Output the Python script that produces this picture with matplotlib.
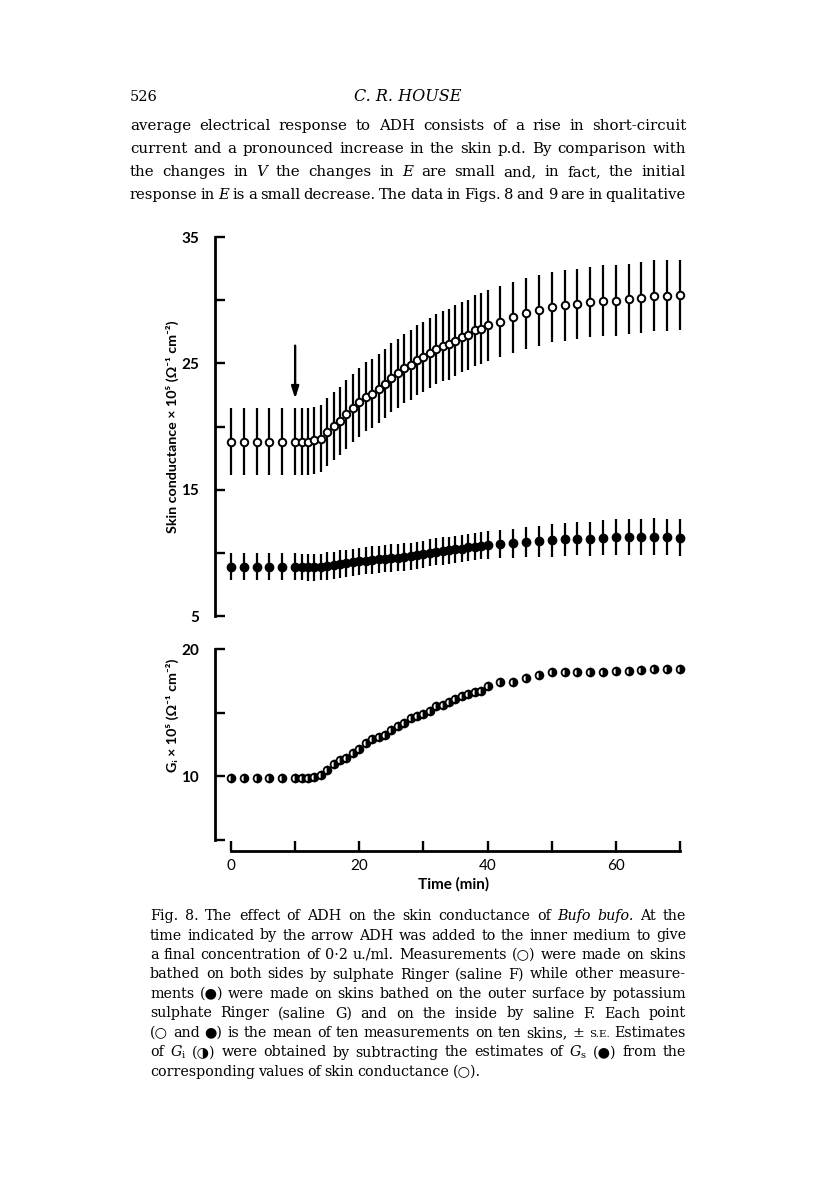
import matplotlib
matplotlib.use('Agg')
import matplotlib.pyplot as plt

# ---- data ----
times = [0, 2, 4, 6, 8,
         10, 11, 12, 13, 14, 15, 16, 17, 18, 19, 20, 21, 22, 23, 24, 25,
         26, 27, 28, 29, 30, 31, 32, 33, 34, 35, 36, 37, 38, 39, 40,
         42, 44, 46, 48, 50, 52, 54, 56, 58, 60, 62, 64, 66, 68, 70]

# skin conductance, both sides saline F (open circles)
open_mean = [18.8, 18.8, 18.8, 18.8, 18.8,
             18.8, 18.8, 18.8, 18.9, 19.05, 19.55, 20.05, 20.45, 20.95, 21.45, 21.9,
             22.35, 22.6, 23.0, 23.4, 23.85, 24.2, 24.6, 24.85, 25.25, 25.5,
             25.85, 26.1, 26.35, 26.5, 26.8, 27.1, 27.25, 27.6, 27.75, 28.0,
             28.3, 28.65, 28.95, 29.2, 29.45, 29.6, 29.7, 29.85, 29.95, 29.95,
             30.1, 30.2, 30.35, 30.35, 30.4]
open_se = [2.65, 2.65, 2.65, 2.65, 2.65,
           2.65, 2.65, 2.65, 2.65, 2.65, 2.68, 2.7, 2.7, 2.7, 2.7, 2.72,
           2.72, 2.72, 2.72, 2.74, 2.74, 2.74, 2.75, 2.75, 2.76, 2.76,
           2.77, 2.77, 2.78, 2.78, 2.78, 2.79, 2.79, 2.8, 2.8, 2.8,
           2.8, 2.8, 2.8, 2.8, 2.8, 2.8, 2.8, 2.8, 2.8, 2.8,
           2.8, 2.8, 2.8, 2.8, 2.8]

# outer surface saline G (filled circles)
filled_mean = [8.9, 8.9, 8.9, 8.9, 8.9,
               8.9, 8.88, 8.86, 8.86, 8.87, 8.95, 9.02, 9.12, 9.18, 9.26, 9.32,
               9.39, 9.44, 9.49, 9.55, 9.6, 9.63, 9.67, 9.72, 9.8, 9.88,
               10.0, 10.08, 10.14, 10.19, 10.27, 10.32, 10.43, 10.48, 10.58, 10.63,
               10.67, 10.74, 10.85, 10.9, 10.98, 11.06, 11.12, 11.12, 11.19, 11.24,
               11.24, 11.24, 11.27, 11.24, 11.21]
filled_se = [1.05, 1.05, 1.05, 1.05, 1.05,
             1.05, 1.05, 1.05, 1.05, 1.05, 1.08, 1.08, 1.08, 1.08, 1.08, 1.08,
             1.08, 1.08, 1.08, 1.08, 1.08, 1.08, 1.08, 1.08, 1.08, 1.08,
             1.08, 1.08, 1.08, 1.08, 1.08, 1.08, 1.08, 1.08, 1.08, 1.08,
             1.1, 1.15, 1.2, 1.25, 1.3, 1.3, 1.3, 1.35, 1.4, 1.4,
             1.45, 1.45, 1.45, 1.45, 1.45]

# G_i (half filled circles)
gi_mean = [9.87, 9.85, 9.83, 9.85, 9.85,
           9.84, 9.83, 9.83, 9.9, 10.08, 10.44, 10.91, 11.23, 11.44, 11.78, 12.14,
           12.58, 12.95, 13.05, 13.24, 13.63, 13.94, 14.2, 14.54, 14.75, 14.86,
           15.14, 15.51, 15.59, 15.82, 16.03, 16.27, 16.45, 16.58, 16.68, 17.1,
           17.39, 17.44, 17.75, 17.99, 18.17, 18.15, 18.15, 18.15, 18.15, 18.25,
           18.3, 18.36, 18.41, 18.41, 18.41]

adh_time = 10
arrow_from, arrow_to = 26.4, 22.2

top_yticks = [5, 10, 15, 20, 25, 30, 35]
top_ylabels = ['5', '', '15', '', '25', '', '35']
bot_yticks = [5, 10, 15, 20]
bot_ylabels = ['', '10', '', '20']
xticks = [0, 10, 20, 30, 40, 50, 60, 70]
xlabels = ['0', '', '20', '', '40', '', '60', '']

body_lines = [
    "average electrical response to ADH consists of a rise in short-circuit",
    "current and a pronounced increase in the skin p.d. By comparison with",
    "the changes in *V* the changes in *E* are small and, in fact, the initial",
    "response in *E* is a small decrease. The data in Figs. 8 and 9 are in qualitative",
]
caption_lines = [
    "Fig. 8. The effect of ADH on the skin conductance of *Bufo* *bufo.* At the",
    "time indicated by the arrow ADH was added to the inner medium to give",
    "a final concentration of 0·2 u./ml. Measurements (○) were made on skins",
    "bathed on both sides by sulphate Ringer (saline F) while other measure-",
    "ments (●) were made on skins bathed on the outer surface by potassium",
    "sulphate Ringer (saline G) and on the inside by saline F. Each point",
    "(○ and ●) is the mean of ten measurements on ten skins, ± #S.E.# Estimates",
    "of $G_\\mathrm{i}$ (◑) were obtained by subtracting the estimates of $G_\\mathrm{s}$ (●) from the",
    "corresponding values of skin conductance (○).",
]

# ---- figure ----
plt.rcParams['font.family'] = ['Lato', 'DejaVu Sans']
plt.rcParams['mathtext.fontset'] = 'dejavuserif'

W, H = 816, 1190
fig = plt.figure(figsize=(W / 100, H / 100), dpi=100)
SERIF = ['DejaVu Serif', 'DejaVu Sans']

x0_px, px_per_min = 231, 6.414
left_px, right_px = 214.5, 692.8
xlim = ((left_px - x0_px) / px_per_min, (right_px - x0_px) / px_per_min)


def px_axes(left, top, right, bottom):
    return fig.add_axes([left / W, 1 - bottom / H, (right - left) / W, (bottom - top) / H])


ax1 = px_axes(left_px, 237, right_px, 616)
ax2 = px_axes(left_px, 649, right_px, 839.5)

ax1.errorbar(times, open_mean, yerr=open_se, fmt='o', mfc='white', mec='black',
             ms=5.4, mew=1.4, ecolor='black', elinewidth=1.6, capsize=0, zorder=3)
ax1.errorbar(times, filled_mean, yerr=filled_se, fmt='o', mfc='black', mec='black',
             ms=6, mew=1, ecolor='black', elinewidth=1.6, capsize=0, zorder=3)
ax1.annotate('', xy=(adh_time, arrow_to), xytext=(adh_time, arrow_from),
             arrowprops=dict(arrowstyle='-|>,head_width=0.22,head_length=0.7',
                             lw=1.7, color='black', shrinkA=0, shrinkB=0))

ax2.plot(times, gi_mean, 'o', ms=5.6, mew=1.3, mec='black', mfc='black',
         fillstyle='right', markerfacecoloralt='white', linestyle='none', zorder=3)

for ax in (ax1, ax2):
    ax.set_xlim(*xlim)
    for s in ('top', 'right'):
        ax.spines[s].set_visible(False)
    for s in ('left', 'bottom'):
        ax.spines[s].set_linewidth(2)
    ax.tick_params(direction='in', length=7, width=1.7, labelsize=11)
    ax.tick_params(axis='y', pad=11)
    ax.tick_params(axis='x', pad=6)

ax1.set_ylim(5, 35)
ax1.set_yticks(top_yticks, top_ylabels, fontweight='bold')
ax1.spines['bottom'].set_visible(False)
ax1.set_xticks([])

ax2.set_ylim(5, 20)
ax2.set_yticks(bot_yticks, bot_ylabels, fontweight='bold')
ax2.set_xticks(xticks, xlabels, fontweight='bold')
ax2.spines['bottom'].set_position(('outward', 8))
ax2.spines['bottom'].set_bounds(0, 70)
ax2.set_xlabel('Time (min)', fontsize=11, fontweight='bold', labelpad=3)

fig.text(172 / W, 1 - 427 / H, 'Skin conductance × 10⁵ (Ω⁻¹ cm⁻²)', rotation=90,
         ha='center', va='center', fontsize=10.3, fontweight='bold')
fig.text(172 / W, 1 - 715 / H, 'Gᵢ × 10⁵ (Ω⁻¹ cm⁻²)', rotation=90,
         ha='center', va='center', fontsize=10.3, fontweight='bold')

# ---- page text ----
renderer = fig.canvas.get_renderer()


def put_line(line, base_y, x_left, x_right, size, justify=True):
    words = line.split(' ')
    while True:
        arts = []
        for w in words:
            kw = dict(fontsize=size, fontweight='normal', family=SERIF, va='baseline')
            if w.startswith('*') and w.endswith('*') and len(w) > 1:
                w = w.strip('*')
                kw['style'] = 'italic'
            elif w.startswith('#'):
                w = w.strip('#')
                kw['fontsize'] = size * 0.72
            arts.append(fig.text(0, 1 - base_y / H, w, **kw))
        widths = [a.get_window_extent(renderer).width for a in arts]
        space = size * 0.32
        if justify and len(arts) > 1:
            space = (x_right - x_left - sum(widths)) / (len(arts) - 1)
        if space >= size * 0.25 or not justify:
            break
        for a in arts:
            a.remove()
        size *= 0.98
    x = x_left
    for a, wd in zip(arts, widths):
        a.set_x(x / W)
        x += wd + space


fig.text(130 / W, 1 - 101 / H, '526', fontsize=10.5, family=SERIF, va='baseline')
fig.text(408 / W, 1 - 101 / H, 'C. R. HOUSE', fontsize=11.5, style='italic',
         family=SERIF, ha='center', va='baseline')

for i, line in enumerate(body_lines):
    put_line(line, 130 + 23 * i, 130, 686, 10.8)

for i, line in enumerate(caption_lines):
    put_line(line, 920 + 19.5 * i, 150, 686, 10.3, justify=(i < len(caption_lines) - 1))

fig.savefig('out.png', dpi=100, facecolor='white')
